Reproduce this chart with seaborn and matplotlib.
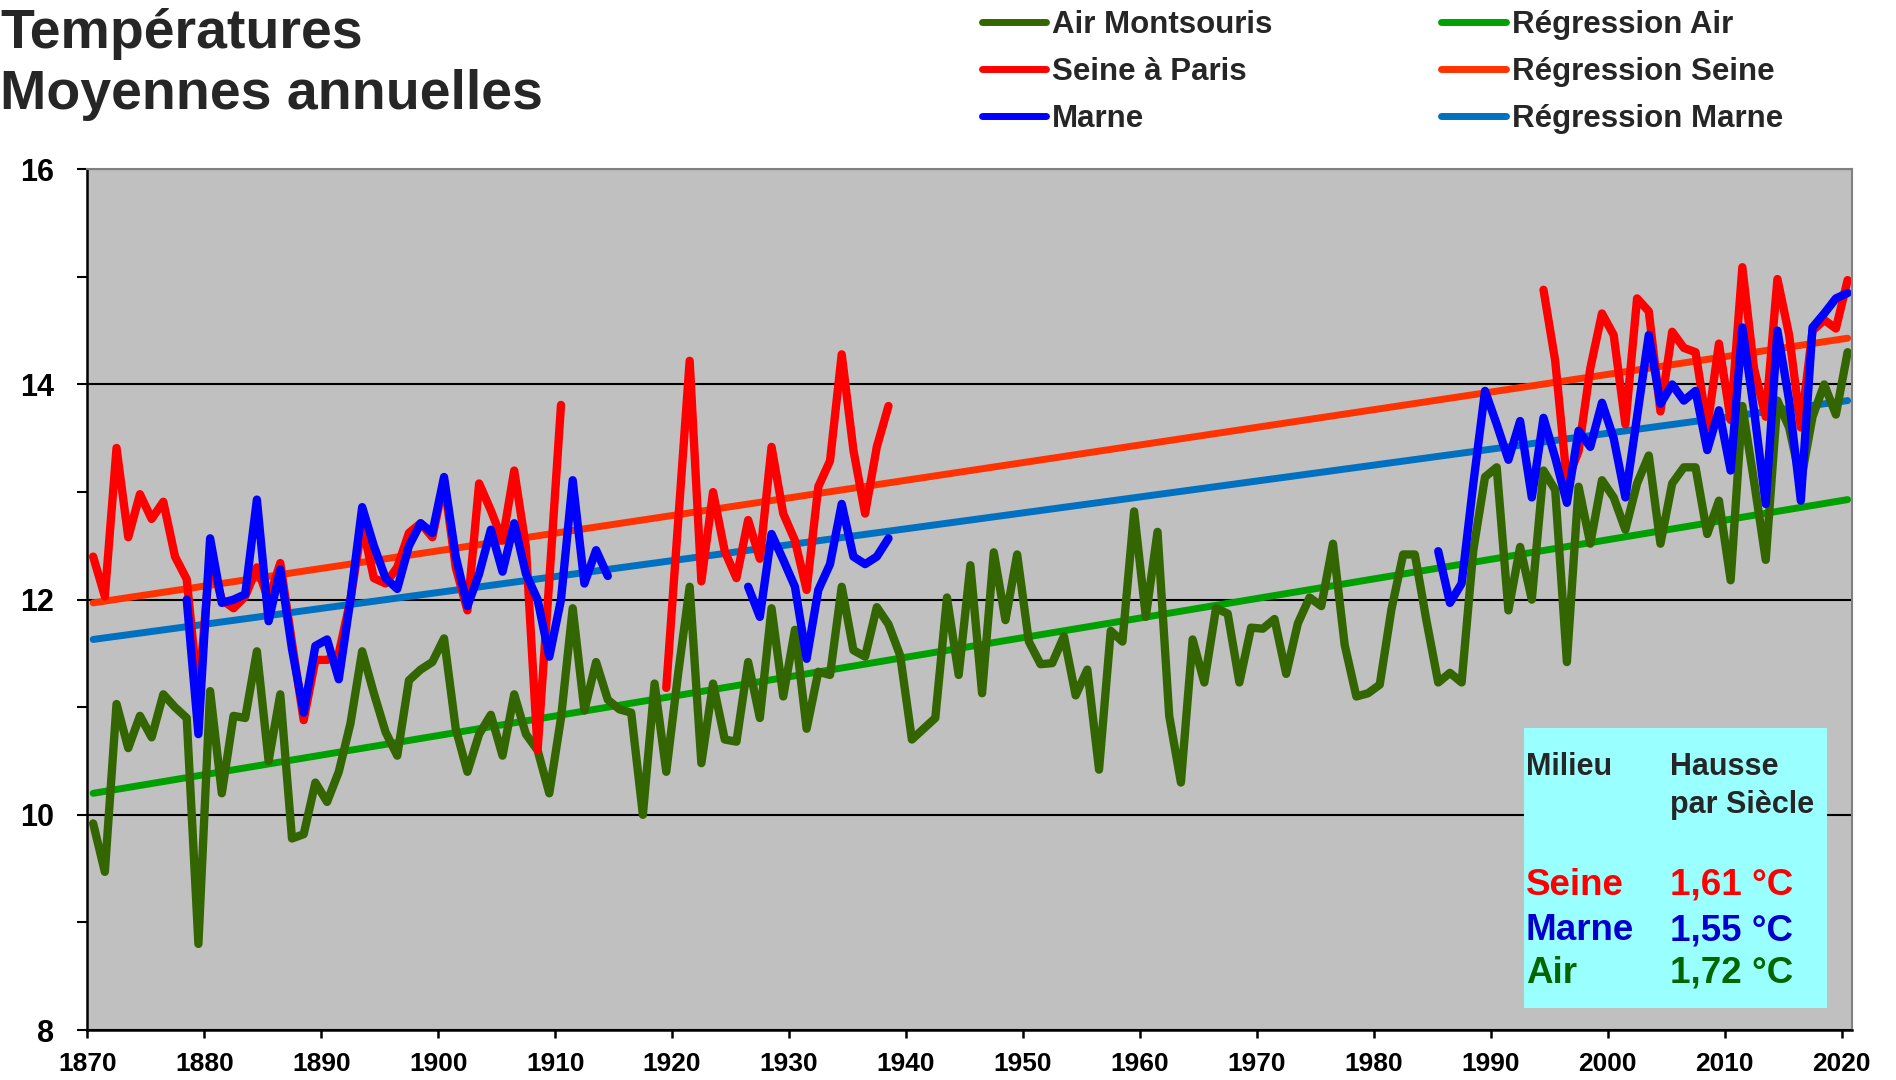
import numpy as np
import pandas as pd
import seaborn as sns
import matplotlib.pyplot as plt
from matplotlib.lines import Line2D
from matplotlib.patches import Rectangle

sns.set_style("white")
plt.rcParams['font.family'] = ['Liberation Sans', 'DejaVu Sans']
plt.rcParams['font.weight'] = 'bold'

# --- data (annual means) ---
air_years = list(range(1870, 2021))
air = [9.92, 9.47, 11.03, 10.62, 10.92, 10.72, 11.12, 11.0, 10.9, 8.8,
       11.15, 10.2, 10.92, 10.9, 11.52, 10.5, 11.12, 9.78, 9.82, 10.3,
       10.12, 10.4, 10.85, 11.52, 11.13, 10.77, 10.55, 11.25, 11.35, 11.42,
       11.64, 10.8, 10.4, 10.75, 10.93, 10.55, 11.12, 10.75, 10.6, 10.2,
       10.9, 11.92, 10.97, 11.42, 11.07, 10.98, 10.95, 10.0, 11.22, 10.4,
       11.3, 12.12, 10.48, 11.22, 10.7, 10.68, 11.42, 10.9, 11.92, 11.1,
       11.72, 10.8, 11.33, 11.3, 12.12, 11.53, 11.47, 11.93, 11.77, 11.48,
       10.7, 10.8, 10.9, 12.02, 11.3, 12.32, 11.13, 12.44, 11.81, 12.42,
       11.61, 11.4, 11.41, 11.66, 11.11, 11.35, 10.42, 11.71, 11.61, 12.82,
       11.84, 12.63, 10.92, 10.3, 11.63, 11.23, 11.92, 11.87, 11.23, 11.74,
       11.73, 11.82, 11.31, 11.78, 12.02, 11.94, 12.52, 11.58, 11.1, 11.13,
       11.21, 11.91, 12.42, 12.42, 11.8, 11.23, 11.32, 11.23, 12.46, 13.14,
       13.23, 11.9, 12.49, 12.0, 13.2, 13.02, 11.42, 13.05, 12.52, 13.11,
       12.95, 12.65, 13.08, 13.34, 12.52, 13.08, 13.23, 13.23, 12.61, 12.92,
       12.18, 13.8, 13.1, 12.37, 13.85, 13.6, 13.1, 13.7, 14.0, 13.72,
       14.3]

seine_years = list(range(1870, 1911)) + list(range(1919, 1939)) + list(range(1994, 2021))
seine = [12.4, 12.03, 13.41, 12.58, 12.98, 12.75, 12.91, 12.4, 12.19, 11.1,
         12.4, 12.0, 11.92, 12.03, 12.3, 12.0, 12.34, 11.6, 10.88, 11.44,
         11.44, 11.5, 12.0, 12.7, 12.2, 12.15, 12.3, 12.62, 12.71, 12.58,
         13.1, 12.3, 11.9, 13.08, 12.83, 12.55, 13.2, 12.49, 10.6, 12.18,
         13.81,
         11.18, 12.7, 14.22, 12.17, 13.0, 12.45, 12.2, 12.74, 12.38, 13.42,
         12.8, 12.55, 12.09, 13.05, 13.29, 14.28, 13.39, 12.8, 13.42, 13.8,
         14.88, 14.22, 13.1, 13.38, 14.15, 14.66, 14.46, 13.63, 14.8, 14.68,
         13.75, 14.49, 14.34, 14.3, 13.6, 14.38, 13.67, 15.09, 14.15, 13.7,
         14.98, 14.46, 13.6, 14.5, 14.6, 14.52, 14.97]

marne_years = list(range(1878, 1915)) + list(range(1926, 1939)) + list(range(1985, 2021))
marne = [12.0, 10.75, 12.57, 11.97, 12.0, 12.05, 12.93, 11.8, 12.28, 11.54,
         10.95, 11.57, 11.63, 11.26, 12.0, 12.86, 12.5, 12.2, 12.1, 12.5,
         12.71, 12.62, 13.14, 12.4, 11.94, 12.24, 12.65, 12.26, 12.71, 12.24,
         12.0, 11.47, 12.0, 13.11, 12.15, 12.46, 12.22,
         12.12, 11.84, 12.61, 12.37, 12.12, 11.45, 12.09, 12.33, 12.89, 12.4,
         12.33, 12.4, 12.57,
         12.45, 11.97, 12.15, 13.08, 13.94, 13.63, 13.3, 13.66, 12.95, 13.69,
         13.32, 12.9, 13.57, 13.42, 13.83, 13.5, 12.95, 13.7, 14.46, 13.82,
         14.0, 13.85, 13.94, 13.39, 13.76, 13.2, 14.53, 13.76, 12.89, 14.5,
         13.85, 12.92, 14.53, 14.66, 14.8, 14.85]

# regression lines (end points)
reg_years = [1870, 2020]
reg_air = [10.2, 12.93]
reg_seine = [11.97, 14.43]
reg_marne = [11.63, 13.85]

tick_years = list(range(1870, 2021, 10))

# box: rise per century
box_names = ['Seine', 'Marne', 'Air']
box_values = ['1,61 °C', '1,55 °C', '1,72 °C']
box_colors = ['#FF0000', '#0000CC', '#006600']

C_AIR, C_SEINE, C_MARNE = '#336600', '#FF0000', '#0000FF'
C_RAIR, C_RSEINE, C_RMARNE = '#00A000', '#FF3300', '#0070C0'


def to_frame(yrs, vals):
    yrs = np.asarray(yrs)
    seg = np.cumsum(np.diff(yrs, prepend=yrs[0]) > 1)
    return pd.DataFrame({'year': yrs, 'temp': vals, 'seg': seg})


W, H = 1896, 1080
fig = plt.figure(figsize=(W / 100, H / 100), dpi=100)
ax = fig.add_axes([87.3 / W, 50 / H, (1851.7 - 87.3) / W, (1030 - 169.3) / H])
ax.set_facecolor('#C0C0C0')

line_kw = dict(estimator=None, legend=False, ax=ax,
               solid_joinstyle='round', solid_capstyle='round')

reg = pd.DataFrame({'year': reg_years, 'air': reg_air,
                    'seine': reg_seine, 'marne': reg_marne})
sns.lineplot(data=reg, x='year', y='air', color=C_RAIR, lw=5, **line_kw)
sns.lineplot(data=reg, x='year', y='seine', color=C_RSEINE, lw=5, **line_kw)
sns.lineplot(data=reg, x='year', y='marne', color=C_RMARNE, lw=5, **line_kw)

sns.lineplot(data=to_frame(air_years, air), x='year', y='temp', units='seg',
             color=C_AIR, lw=6, **line_kw)
sns.lineplot(data=to_frame(seine_years, seine), x='year', y='temp', units='seg',
             color=C_SEINE, lw=6, **line_kw)
sns.lineplot(data=to_frame(marne_years, marne), x='year', y='temp', units='seg',
             color=C_MARNE, lw=6, **line_kw)

ax.set_xlim(1869.5, 2020.35)
ax.set_ylim(8, 16)
ax.set_xticks([y - 0.5 for y in tick_years])
ax.set_xticklabels([str(y) for y in tick_years])
ax.set_yticks([8, 10, 12, 14, 16])
ax.set_yticks([9, 11, 13, 15], minor=True)
ax.set_xlabel('')
ax.set_ylabel('')
ax.set_axisbelow(True)
ax.yaxis.grid(True, which='major', color='black', lw=1.5)
ax.xaxis.grid(False)

for side in ['left', 'bottom']:
    ax.spines[side].set_color('black')
    ax.spines[side].set_linewidth(1.8)
for side in ['top', 'right']:
    ax.spines[side].set_color('#808080')
    ax.spines[side].set_linewidth(1.5)

ax.tick_params(axis='x', which='major', direction='out', length=6, width=1.8,
               pad=10, labelsize=19, colors='black', bottom=True)
ax.tick_params(axis='y', which='both', direction='out', length=7, width=1.5,
               pad=17, labelsize=22, colors='black', left=True)

# title
fig.text(0.0, 1 - 48 / H, 'Températures', fontsize=40, fontweight='bold',
         va='baseline', ha='left')
fig.text(0.0, 1 - 109 / H, 'Moyennes annuelles', fontsize=40, fontweight='bold',
         va='baseline', ha='left')

# legend
handles = [Line2D([], [], color=c, lw=5) for c in
           [C_AIR, C_SEINE, C_MARNE, C_RAIR, C_RSEINE, C_RMARNE]]
labels = ['Air Montsouris', 'Seine à Paris', 'Marne',
          'Régression Air', 'Régression Seine', 'Régression Marne']
fig.legend(handles, labels, ncol=2, loc='upper left',
           bbox_to_anchor=(982 / W, 1 - 10 / H), frameon=False,
           fontsize=22.5, handlelength=2.05, handletextpad=0.2,
           columnspacing=5.4, labelspacing=0.55, borderpad=0, borderaxespad=0)

# info box
fig.patches.append(Rectangle((1524 / W, 1 - 1008 / H), 303 / W, 280 / H,
                             transform=fig.transFigure, facecolor='#99FFFF',
                             edgecolor='none', zorder=5))
fig.text(1526 / W, 1 - 775 / H, 'Milieu', fontsize=22, va='baseline', zorder=6)
fig.text(1670 / W, 1 - 775 / H, 'Hausse', fontsize=22, va='baseline', zorder=6)
fig.text(1670 / W, 1 - 813 / H, 'par Siècle', fontsize=22, va='baseline', zorder=6)
for name, val, col, base in zip(box_names, box_values, box_colors, [895, 940, 983]):
    fig.text(1526 / W, 1 - base / H, name, fontsize=26.5, color=col,
             va='baseline', zorder=6)
    fig.text(1670 / W, 1 - base / H, val, fontsize=26.5, color=col,
             va='baseline', zorder=6)

fig.savefig('out.png', dpi=100)
